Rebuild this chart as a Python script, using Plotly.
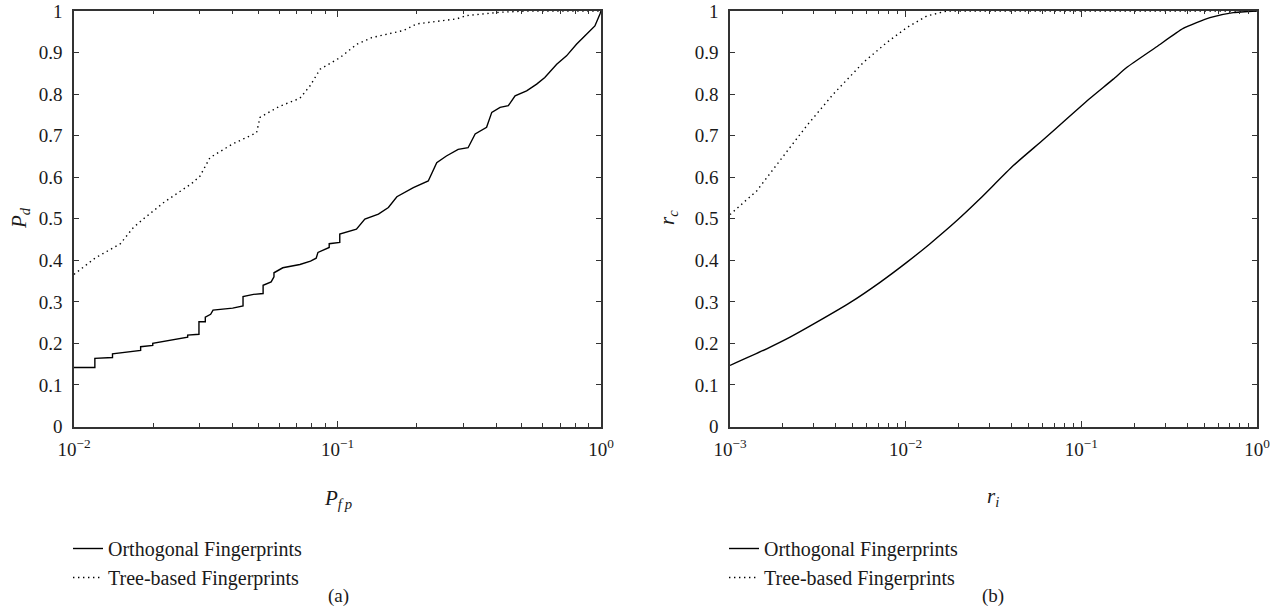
import plotly.graph_objects as go

# ---------------- data ----------------
# (a) P_d versus P_fp
pfp_orth = [0.0100, 0.0120, 0.0120, 0.0140, 0.0140, 0.0179, 0.0179, 0.0199, 0.0199, 0.0230,
            0.0250, 0.0270, 0.0270, 0.0298, 0.0298, 0.0315, 0.0315, 0.0330, 0.0337, 0.0400,
            0.0438, 0.0438, 0.0480, 0.0522, 0.0522, 0.0560, 0.0574, 0.0574, 0.0620, 0.0677,
            0.0720, 0.0790, 0.0830, 0.0843, 0.0930, 0.0930, 0.1020, 0.1020, 0.1180, 0.1270,
            0.1430, 0.1560, 0.1680, 0.1940, 0.2210, 0.2380, 0.2590, 0.2870, 0.3130, 0.3330,
            0.3680, 0.3850, 0.4140, 0.4450, 0.4720, 0.5220, 0.5700, 0.6120, 0.6790, 0.7400,
            0.8070, 0.8810, 0.9480, 0.9910, 1.0000]
pd_orth = [0.142, 0.142, 0.164, 0.166, 0.175, 0.183, 0.192, 0.195, 0.200, 0.207,
           0.212, 0.215, 0.220, 0.222, 0.252, 0.252, 0.263, 0.270, 0.280, 0.285,
           0.290, 0.313, 0.318, 0.320, 0.340, 0.348, 0.360, 0.370, 0.382, 0.386,
           0.390, 0.398, 0.405, 0.419, 0.431, 0.440, 0.443, 0.463, 0.475, 0.499,
           0.511, 0.527, 0.553, 0.575, 0.591, 0.635, 0.651, 0.667, 0.671, 0.704,
           0.720, 0.756, 0.768, 0.772, 0.796, 0.808, 0.824, 0.840, 0.872, 0.892,
           0.920, 0.944, 0.964, 0.993, 1.000]

pfp_tree = [0.0100, 0.0120, 0.0150, 0.0168, 0.0183, 0.0220, 0.0280, 0.0301, 0.0328, 0.0400,
            0.0493, 0.0508, 0.0600, 0.0720, 0.0787, 0.0859, 0.1023, 0.1183, 0.1349, 0.1778,
            0.2000, 0.2831, 0.3090, 0.4140, 0.5224, 1.0000]
pd_tree = [0.366, 0.405, 0.440, 0.479, 0.499, 0.540, 0.585, 0.603, 0.647, 0.680,
           0.707, 0.744, 0.770, 0.790, 0.820, 0.860, 0.888, 0.920, 0.936, 0.953,
           0.969, 0.981, 0.989, 0.997, 1.000, 1.000]

# (b) r_c versus r_i
ri_orth = [0.001, 0.001618, 0.002198, 0.003119, 0.004819, 0.007145, 0.01014, 0.01377, 0.0195,
           0.02649, 0.04102, 0.06067, 0.0824, 0.1122, 0.152, 0.1811, 0.2685, 0.3802, 0.5395,
           0.7328, 1.0]
rc_orth = [0.147, 0.187, 0.215, 0.251, 0.298, 0.347, 0.395, 0.440, 0.495,
           0.548, 0.628, 0.690, 0.740, 0.790, 0.836, 0.864, 0.914, 0.958, 0.984,
           0.996, 1.000]

ri_tree = [0.001, 0.001419, 0.002014, 0.002735, 0.003873, 0.005741, 0.0078, 0.01014, 0.01318,
           0.01714, 1.0]
rc_tree = [0.510, 0.567, 0.651, 0.724, 0.800, 0.876, 0.924, 0.960, 0.988,
           1.000, 1.000]

series_names = ["Orthogonal Fingerprints", "Tree-based Fingerprints"]
y_ticks = [0, 0.1, 0.2, 0.3, 0.4, 0.5, 0.6, 0.7, 0.8, 0.9, 1]
y_ticktext = ["0", "0.1", "0.2", "0.3", "0.4", "0.5", "0.6", "0.7", "0.8", "0.9", "1"]
xa_ticks = [0.01, 0.1, 1]
xa_ticktext = ["10<sup>−2</sup>", "10<sup>−1</sup>", "10<sup>0</sup>"]
xb_ticks = [0.001, 0.01, 0.1, 1]
xb_ticktext = ["10<sup>−3</sup>", "10<sup>−2</sup>", "10<sup>−1</sup>", "10<sup>0</sup>"]

# ---------------- figure ----------------
W, H = 1281, 613
FONT = "Liberation Serif, Times New Roman, serif"
TXT = "#1a1a1a"
AX = "#333333"
DOT = "1.4px,3.6px"

fig = go.Figure()
fig.add_trace(go.Scatter(x=pfp_orth, y=pd_orth, mode="lines", line=dict(color="black", width=1.4),
                         name=series_names[0], xaxis="x", yaxis="y", legend="legend"))
fig.add_trace(go.Scatter(x=pfp_tree, y=pd_tree, mode="lines", line=dict(color="black", width=1.4, dash=DOT),
                         name=series_names[1], xaxis="x", yaxis="y", legend="legend"))
fig.add_trace(go.Scatter(x=ri_orth, y=rc_orth, mode="lines", line=dict(color="black", width=1.4, shape="spline", smoothing=0.5),
                         name=series_names[0], xaxis="x2", yaxis="y2", legend="legend2"))
fig.add_trace(go.Scatter(x=ri_tree, y=rc_tree, mode="lines", line=dict(color="black", width=1.4, dash=DOT),
                         name=series_names[1], xaxis="x2", yaxis="y2", legend="legend2"))

def px(x):
    return x / W

def py(y):
    return 1 - y / H

ydom = [py(426.5), py(11)]

def minor_vals(e0, e1):
    return [k * 10 ** e for e in range(e0, e1) for k in range(2, 10)]

common_x = dict(type="log", showgrid=False, zeroline=False, showline=True, linecolor=AX, linewidth=1.5,
                mirror="allticks", ticks="inside", ticklen=6, tickwidth=1.2, tickcolor=AX, automargin=False,
                tickfont=dict(family=FONT, size=19, color=TXT), ticklabelstandoff=5)
common_y = dict(range=[0, 1], showgrid=False, zeroline=False, showline=True, linecolor=AX, linewidth=1.5,
                mirror="allticks", ticks="inside", ticklen=5, tickwidth=1.2, tickcolor=AX, automargin=False,
                tickvals=y_ticks, ticktext=y_ticktext,
                tickfont=dict(family=FONT, size=19, color=TXT), ticklabelstandoff=6)

LEG_FONT = dict(family=FONT, size=20, color=TXT)
fig.update_layout(
    template="none",
    width=W, height=H, margin=dict(l=0, r=0, t=0, b=0, pad=0, autoexpand=False),
    paper_bgcolor="white", plot_bgcolor="white",
    font=dict(family=FONT, color=TXT),
    xaxis=dict(domain=[px(74), px(601)], range=[-2, 0], tickvals=xa_ticks, ticktext=xa_ticktext,
               minor=dict(tickvals=minor_vals(-2, 0), ticks="inside", ticklen=3.5, tickwidth=1, tickcolor=AX),
               anchor="y", **common_x),
    yaxis=dict(domain=ydom, anchor="x", **common_y),
    xaxis2=dict(domain=[px(730), px(1257)], range=[-3, 0], tickvals=xb_ticks, ticktext=xb_ticktext,
                minor=dict(tickvals=minor_vals(-3, 0), ticks="inside", ticklen=3.5, tickwidth=1, tickcolor=AX),
                anchor="y2", **common_x),
    yaxis2=dict(domain=ydom, anchor="x2", **common_y),
    legend=dict(x=px(68), y=py(529), xanchor="left", yanchor="top", bgcolor="rgba(0,0,0,0)",
                font=LEG_FONT, tracegroupgap=0, itemwidth=30),
    legend2=dict(x=px(724), y=py(529), xanchor="left", yanchor="top", bgcolor="rgba(0,0,0,0)",
                 font=LEG_FONT, tracegroupgap=0, itemwidth=30),
    showlegend=True,
)

ann_font = dict(family=FONT, size=21, color=TXT)
cap_font = dict(family=FONT, size=19, color=TXT)
def ann(text, x, y, font, angle=0):
    return dict(text=text, x=px(x), y=py(y), xref="paper", yref="paper", showarrow=False,
                xanchor="center", yanchor="middle", font=font, textangle=angle)

annotations = [
    ann("<i>P<sub>f\u2009p</sub></i>", 338, 499, ann_font),
    ann("<i>P<sub>d</sub></i>", 20, 218, ann_font, -90),
    ann("(a)", 338, 596, cap_font),
    ann("<i>r<sub>i</sub></i>", 993, 497, ann_font),
    ann("<i>r<sub>c</sub></i>", 668, 218, ann_font, -90),
    ann("(b)", 993, 596, cap_font),
]
fig.update_layout(annotations=annotations)

fig.write_html("out.html")
